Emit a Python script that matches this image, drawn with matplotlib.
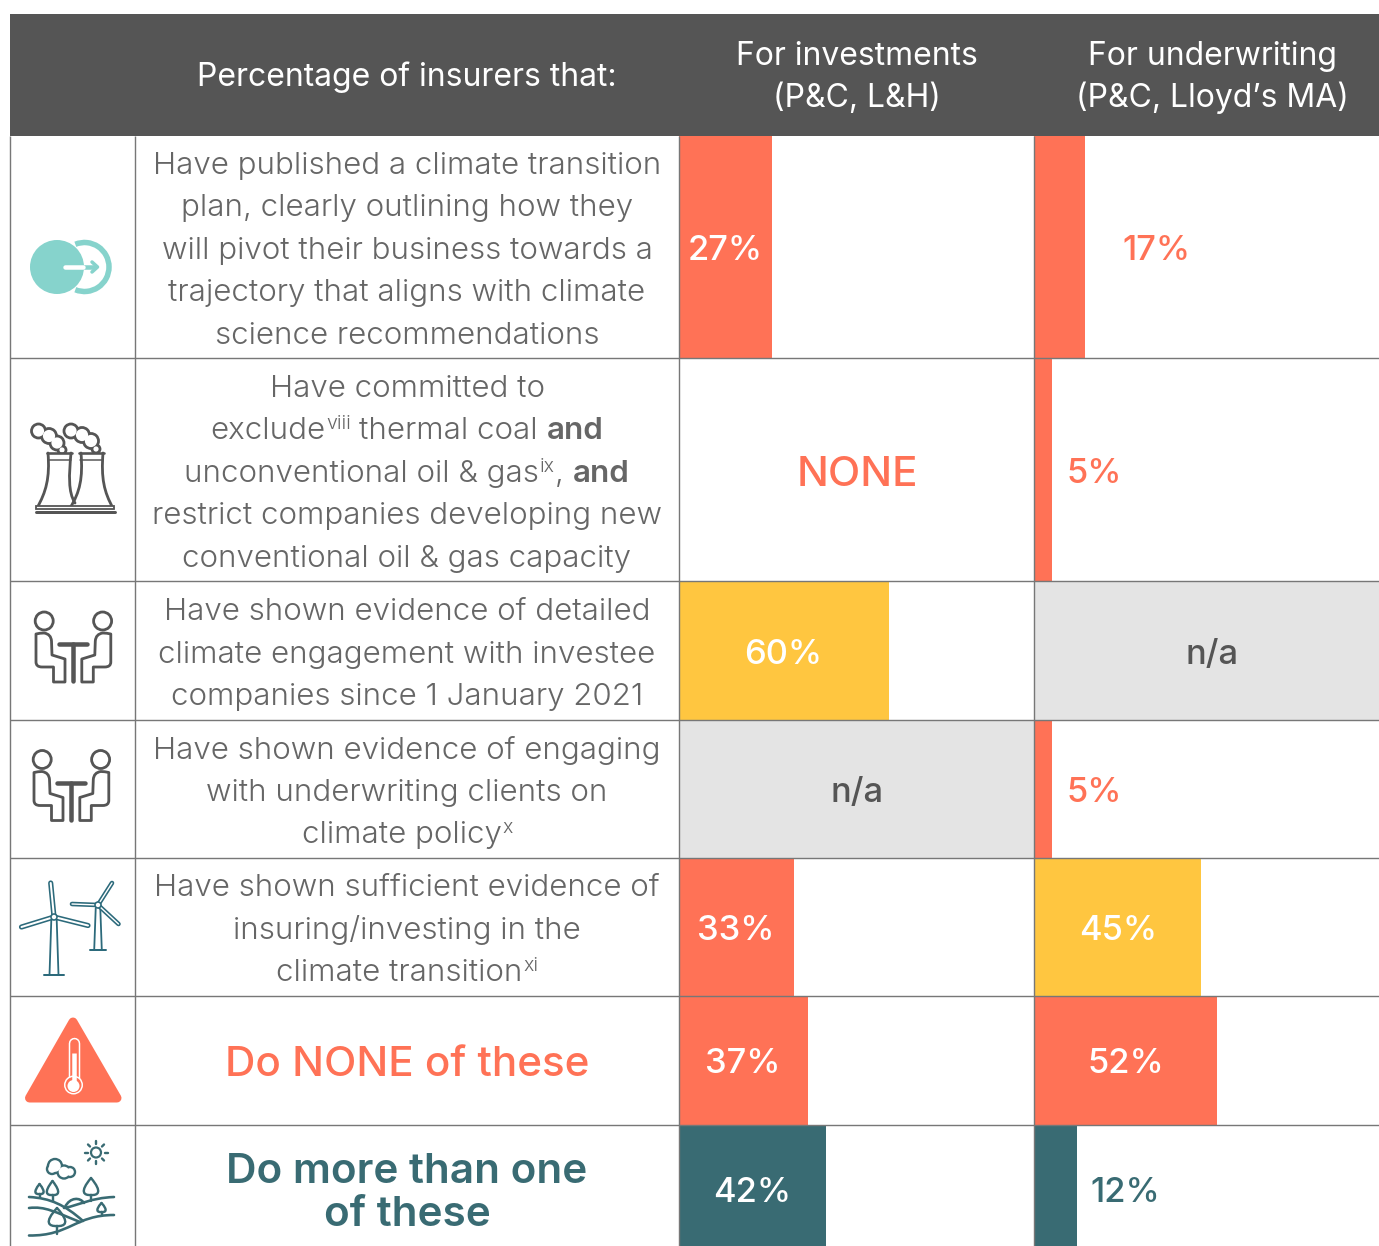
import matplotlib
matplotlib.use("Agg")
import matplotlib.pyplot as plt
from matplotlib.patches import Rectangle, Circle, Polygon, PathPatch, Arc
from matplotlib.path import Path
from matplotlib import font_manager as fm

# ---- data ----
row_labels = [
    [[("Have published a climate transition", "n")],
     [("plan, clearly outlining how they", "n")],
     [("will pivot their business towards a", "n")],
     [("trajectory that aligns with climate", "n")],
     [("science recommendations", "n")]],
    [[("Have committed to", "n")],
     [("exclude", "n"), ("viii", "s"), ("thermal coal", "n"), ("and", "b")],
     [("unconventional oil & gas", "n"), ("ix", "s"), (",", "n"), ("and", "b")],
     [("restrict companies developing new", "n")],
     [("conventional oil & gas capacity", "n")]],
    [[("Have shown evidence of detailed", "n")],
     [("climate engagement with investee", "n")],
     [("companies since 1 January 2021", "n")]],
    [[("Have shown evidence of engaging", "n")],
     [("with underwriting clients on", "n")],
     [("climate policy", "n"), ("x", "s")]],
    [[("Have shown sufficient evidence of", "n")],
     [("insuring/investing in the", "n")],
     [("climate transition", "n"), ("xi", "s")]],
]
summary_none = "Do NONE of these"
summary_more = ["Do more than one", "of these"]
header_main = "Percentage of insurers that:"
header_inv = ["For investments", "(P&C, L&H)"]
header_und = ["For underwriting", "(P&C, Lloyd’s MA)"]

inv_labels = ["27%", "NONE", "60%", "n/a", "33%", "37%", "42%"]
und_labels = ["17%", "5%", "n/a", "5%", "45%", "52%", "12%"]
inv_bars = [26.7, 0, 60, 0, 33, 37, 42]
und_bars = [14.6, 5, 0, 5, 47.6, 52.1, 12.3]
inv_colors = ["coral", None, "yellow", "grey", "coral", "coral", "teal"]
und_colors = ["coral", "coral", "grey", "coral", "yellow", "coral", "teal"]
inv_text = ["white", "coral", "white", "dark", "white", "white", "white"]
und_text = ["coral", "coral", "dark", "coral", "white", "white", "teal"]

# ---- layout ----
W, H = 1379, 1246
row_y = [136, 358, 581, 719.7, 857.7, 995.7, 1124.7, 1246]
col_x = [10, 134.5, 678.8, 1034.3, 1379]
px_per_pct = 3.5
inv_label_x = [725, 857, 783, 857, 736, 743, 752]
und_label_x = [1157, 1094, 1212, 1094, 1118, 1126, 1125]
value_y = [247.5, 471, 652, 790, 928, 1061, 1189.5]
line_y = [[162.7, 205.2, 247.7, 290.2, 332.7], [385.7, 428.2, 470.7, 513.2, 555.7],
          [609.2, 651.7, 694.2], [747.7, 789.7, 832.2], [885.2, 927.7, 970.2]]

COL = {"coral": "#FF7256", "yellow": "#FFC640", "teal": "#396B73",
       "grey": "#E4E4E4", "dark": "#555555", "white": "white"}
MINT = "#86D3CC"
BLUE = "#2C6A7B"
LINE = "#777777"
TXT = "#666666"

avail = {(f.name, f.weight) for f in fm.fontManager.ttflist}
FONT = "Inter"
LIGHT = 300 if any(n == "Inter" and w in (300, "light") for n, w in avail) else 400
if LIGHT == 400:
    FONT = "Roboto" if any(n == "Roboto" and w in (300, "light") for n, w in avail) else "Inter"
    LIGHT = 300 if FONT == "Roboto" else 400
plt.rcParams["font.family"] = [FONT, "DejaVu Sans"]

fig = plt.figure(figsize=(W / 100, H / 100), dpi=100, facecolor="white")
ax = fig.add_axes([0, 0, 1, 1])
ax.set_xlim(0, W)
ax.set_ylim(H, 0)
ax.axis("off")
rend = fig.canvas.get_renderer()

PX = 0.72  # points per pixel
BODY = 31.3 * PX
SUP = 19.5 * PX
VAL = 34.5 * PX
HEAD = 31.9 * PX
BIG = 42.2 * PX


def seg_width(s, size, weight):
    t = ax.text(0, 0, s, fontsize=size, fontweight=weight)
    w = t.get_window_extent(rend).width
    t.remove()
    return w


def mixed_line(segs, cx, base):
    gap = 8.5
    items = []
    for s, k in segs:
        size = SUP if k == "s" else BODY
        weight = 600 if k == "b" else LIGHT
        items.append((s, k, size, weight, seg_width(s, size, weight)))
    total = sum(i[4] for i in items)
    gaps = []
    for a, b in zip(items, items[1:]):
        g = 0.5
        if b[1] == "b" or (a[1] == "s" and b[1] == "n" and b[0] != ","):
            g = gap
        if a[1] == "n" and b[0] == "and":
            g = gap
        gaps.append(g)
    total += sum(gaps)
    x = cx - total / 2
    for idx, (s, k, size, weight, w) in enumerate(items):
        y = base - 10 if k == "s" else base
        ax.text(x, y, s, fontsize=size, fontweight=weight, color=TXT, ha="left", va="baseline")
        x += w + (gaps[idx] if idx < len(gaps) else 0)


# header
ax.add_patch(Rectangle((col_x[0], 14), W - col_x[0], row_y[0] - 14, fc=COL["dark"], ec="none", zorder=1))
ax.text(407, 86, header_main, color="white", fontsize=HEAD, ha="center", va="baseline", zorder=3)
for cx, lines in ((857, header_inv), (1212, header_und)):
    for base, s in zip((65, 107), lines):
        ax.text(cx, base, s, color="white", fontsize=HEAD, ha="center", va="baseline", zorder=3)

# bars and cells
for i in range(7):
    top, bot = row_y[i], row_y[i + 1]
    for x0, x1, bar, colr in ((col_x[2], col_x[3], inv_bars[i], inv_colors[i]),
                              (col_x[3], col_x[4], und_bars[i], und_colors[i])):
        if colr == "grey":
            ax.add_patch(Rectangle((x0, top), x1 - x0, bot - top, fc=COL["grey"], ec="none", zorder=1))
        elif colr:
            ax.barh((top + bot) / 2, bar * px_per_pct, height=bot - top, left=x0,
                    color=COL[colr], linewidth=0, zorder=1)
ax.set_xlim(0, W)
ax.set_ylim(H, 0)

# grid
for y in row_y[1:-1]:
    ax.plot([col_x[0], W], [y, y], color=LINE, lw=1.4 * PX, zorder=2, solid_capstyle="butt")
for x in col_x[:-1]:
    ax.plot([x, x], [row_y[0], H], color=LINE, lw=1.4 * PX, zorder=2, solid_capstyle="butt")

# value labels
for i in range(7):
    cy = value_y[i]
    for lab, lx, colr in ((inv_labels[i], inv_label_x[i], inv_text[i]),
                          (und_labels[i], und_label_x[i], und_text[i])):
        size = BIG if lab == "NONE" else VAL
        ax.text(lx, cy + 12 if lab != "NONE" else cy + 15, lab, color=COL[colr], fontsize=size, fontweight=500,
                ha="center", va="baseline", zorder=4)

# row text
for segs_rows, ys in zip(row_labels, line_y):
    for segs, y in zip(segs_rows, ys):
        mixed_line(segs, 407, y + 11)
ax.text(407, 1076, summary_none, color=COL["coral"], fontsize=BIG, fontweight=500, ha="center", va="baseline")
ax.text(407, 1183, summary_more[0], color=COL["teal"], fontsize=BIG, fontweight=600, ha="center", va="baseline")
ax.text(407, 1226, summary_more[1], color=COL["teal"], fontsize=BIG, fontweight=600, ha="center", va="baseline")


# ---- icons ----
def line(pts, color, lw, z=5, cap="round"):
    xs, ys = zip(*pts)
    ax.plot(xs, ys, color=color, lw=lw * PX, zorder=z, solid_capstyle=cap, solid_joinstyle="round")


def bez(pts, color, lw, z=5, fc="none"):
    codes = [Path.MOVETO] + [Path.CURVE4] * (len(pts) - 1)
    ax.add_patch(PathPatch(Path(pts, codes), fc=fc, ec=color, lw=lw * PX, zorder=z, capstyle="round", joinstyle="round"))


def cloud(circles, color, lw, z=5):
    for cx, cy, r in circles:
        ax.add_patch(Circle((cx, cy), r + lw / 2, fc=color, ec="none", zorder=z))
    for cx, cy, r in circles:
        ax.add_patch(Circle((cx, cy), r - lw / 2, fc="white", ec="none", zorder=z + 0.1))


# transition icon
ax.add_patch(Arc((84.5, 267), 49, 49, theta1=-112, theta2=112, ec=MINT, lw=5.5 * PX, zorder=5))
ax.add_patch(Circle((57, 267), 27, fc=MINT, ec="none", zorder=5.1))
line([(83, 267), (96, 267)], MINT, 4.5, 5.2, "butt")
line([(92, 262), (97.5, 267), (92, 272)], MINT, 3.5, 5.2)
line([(65, 267), (83, 267)], "white", 4.5, 5.3)

# cooling towers
DK = "#555555"
cloud([(38.5, 431, 7), (49, 436, 7.5), (57, 443, 7), (62, 450, 4)], DK, 2.8)
cloud([(71, 431, 7), (82, 435, 7.5), (91, 441, 7.5), (96, 449, 4)], DK, 2.8, 5.3)
for off in (0, 32):
    pts = [(48 + off, 453), (50 + off, 478), (46 + off, 492), (37 + off, 508)]
    if off:
        pts = [(49 + off, 453), (51 + off, 478), (48 + off, 492), (38 + off, 508)]
    ax.add_patch(Rectangle((46 + off, 453), 26, 6, fc="white", ec="none", zorder=5.6))
    bez(pts, DK, 2.8, 5.7)
    if off == 0:
        bez([(71, 453), (69, 475), (68, 492), (75, 503)], DK, 2.8, 5.7)
    else:
        bez([(103, 453), (101, 478), (104, 492), (113, 508)], DK, 2.8, 5.7)
    line([(47 + off, 453), (72 + off, 453)], DK, 2.6, 5.7)
    line([(48 + off, 460), (71 + off, 460)], DK, 1.5, 5.7)
ax.add_patch(Rectangle((36, 505.5), 78, 3, fc="white", ec=DK, lw=1.8 * PX, zorder=6))
line([(36, 512), (115, 512)], DK, 3, 6)


# meeting icon
def meeting(dx, dy):
    line([(59 + dx, 644 + dy), (87 + dx, 644 + dy)], DK, 4.5)
    line([(73.2 + dx, 644 + dy), (73.2 + dx, 681 + dy)], DK, 4.5)
    for m in (False, True):
        f = (lambda x: 146.8 + 2 * dx - (x + dx)) if m else (lambda x: x + dx)
        ax.add_patch(Circle((f(44.2), 621 + dy), 9, fc="none", ec=DK, lw=2.8 * PX, zorder=5))
        verts = [(36, 640), (36, 662), (36, 667), (42, 667), (53.5, 667), (53.5, 682), (65, 682),
                 (65, 659), (52, 655), (51.5, 641), (51, 634), (44, 633), (40, 633), (36, 634), (36, 640)]
        codes = [Path.MOVETO, Path.LINETO, Path.CURVE3, Path.CURVE3, Path.LINETO, Path.LINETO, Path.LINETO,
                 Path.LINETO, Path.LINETO, Path.LINETO, Path.CURVE3, Path.CURVE3, Path.CURVE3, Path.CURVE3, Path.LINETO]
        verts = [(f(x), y + dy) for x, y in verts]
        ax.add_patch(PathPatch(Path(verts, codes), fc="none", ec=DK, lw=2.8 * PX, zorder=5, joinstyle="round"))


meeting(0, 0)
meeting(-2, 138.5)


# wind turbines
def turbine(hub, tips, base_y, half, base_half, blade_w):
    hx, hy = hub
    line([(hx - 0.6 * half, hy + 3), (hx - half, base_y)], BLUE, 1.8)
    line([(hx + 0.6 * half, hy + 3), (hx + half, base_y)], BLUE, 1.8)
    line([(hx - base_half, base_y), (hx + base_half, base_y)], BLUE, 2)
    for t in tips:
        line([hub, t], BLUE, blade_w, 5)
        line([hub, t], "white", blade_w - 3.2, 5.1)
    ax.add_patch(Circle(hub, 3, fc="white", ec=BLUE, lw=1.6 * PX, zorder=5.2))


turbine((54, 917), [(50.7, 883), (21.5, 927), (88, 925.5)], 975, 4.5, 10, 5.2)
turbine((98, 905), [(112, 883), (72, 904), (118.5, 924)], 950, 3.8, 8, 4.6)

# warning triangle
CR = COL["coral"]
ax.add_patch(Polygon([(73, 1022), (29.5, 1098), (117, 1098)], closed=True, fc=CR, ec=CR, lw=9 * PX,
                     joinstyle="round", zorder=5))
line([(73.5, 1043), (73.5, 1080)], "white", 11.5, 5.1)
line([(73.5, 1043), (73.5, 1080)], CR, 8.5, 5.2)
ax.add_patch(Circle((73.5, 1085), 9.5, fc="white", ec="none", zorder=5.3))
ax.add_patch(Circle((73.5, 1085), 8, fc=CR, ec="none", zorder=5.4))
ax.add_patch(Circle((73.5, 1086), 6, fc="white", ec="none", zorder=5.5))
line([(73.5, 1053), (73.5, 1084)], "white", 4.5, 5.5, "butt")

# landscape
TL = COL["teal"]
ax.add_patch(Circle((96, 1152.5), 5, fc="none", ec=TL, lw=2.2 * PX, zorder=5))
for a, b in (((96, 1141), (96, 1144)), ((96, 1161), (96, 1164)), ((84.5, 1152.5), (87.5, 1152.5)),
             ((104.5, 1152.5), (107.5, 1152.5)), ((88, 1144.5), (90, 1146.5)), ((102, 1158.5), (104, 1160.5)),
             ((104, 1144.5), (102, 1146.5)), ((90, 1158.5), (88, 1160.5))):
    line([a, b], TL, 2.4)
cloud([(55, 1166, 7), (64, 1172, 6.5), (70, 1172, 5), (52, 1169, 5)], TL, 2.4)
bez([(29, 1197), (50, 1198), (65, 1205), (83, 1221)], TL, 2.6)
bez([(29, 1208), (45, 1206), (55, 1212), (80, 1222)], TL, 2.6)
bez([(29, 1235.5), (70, 1236), (75, 1215), (114, 1215)], TL, 2.6)
bez([(64, 1208), (80, 1205), (90, 1198), (114, 1197)], TL, 2.6)
bez([(65, 1207), (70, 1197), (80, 1197), (84, 1203)], TL, 2.6)


def leaf(cx, top, bot, r, stem):
    bez([(cx, top), (cx - r * 1.7, bot - r * 0.4), (cx - r, bot + 0.5), (cx, bot)], TL, 2.4)
    bez([(cx, top), (cx + r * 1.7, bot - r * 0.4), (cx + r, bot + 0.5), (cx, bot)], TL, 2.4)
    line([(cx, bot), (cx, stem)], TL, 2.4)


leaf(39.5, 1184, 1194, 4, 1197)
leaf(52.5, 1181, 1195, 5.5, 1201)
leaf(91, 1178, 1195, 7, 1201)
leaf(101.5, 1203, 1212, 4, 1215)
leaf(57, 1208, 1226, 8, 1234)

fig.savefig("out.png", dpi=100, facecolor="white")
